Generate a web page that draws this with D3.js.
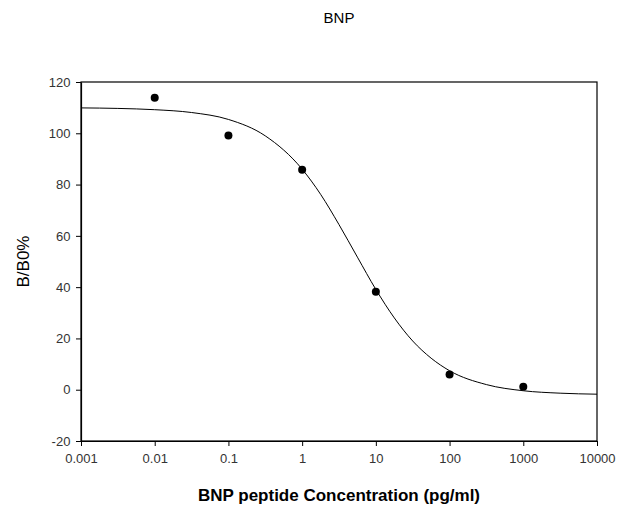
<!DOCTYPE html>
<html>
<head>
<meta charset="utf-8">
<script src="https://cdn.jsdelivr.net/npm/d3@7"></script>
<style>
  body { margin: 0; background: #fff; }
  text { font-family: "Liberation Sans", Arial, sans-serif; }
</style>
</head>
<body>
<svg id="chart"></svg>
<script>
// measured points
const conc = [0.01, 0.1, 1, 10, 100, 1000];
const bb0 = [113.9, 99.1, 85.8, 38.2, 5.9, 1.2];

// fitted curve
const curveConc = [0.001, 0.00316, 0.01, 0.0316, 0.1, 0.316, 1, 1.78, 3.16, 5.62, 10, 17.8, 31.6, 56.2, 100, 316, 1000, 3162, 10000];
const curveVal = [109.9, 109.7, 109.2, 108.1, 105.4, 99.0, 86.0, 76.2, 64.4, 51.7, 39.1, 28.0, 19.0, 12.3, 7.4, 2.0, -0.4, -1.35, -1.75];

const xTicks = [0.001, 0.01, 0.1, 1, 10, 100, 1000, 10000];
const yTicks = [-20, 0, 20, 40, 60, 80, 100, 120];

const width = 617, height = 508;
const margin = { top: 82, right: 20, bottom: 67, left: 81 };
const w = width - margin.left - margin.right;
const h = height - margin.top - margin.bottom;

const svg = d3.select('#chart')
  .attr('width', width)
  .attr('height', height);

const g = svg.append('g')
  .attr('transform', `translate(${margin.left},${margin.top})`);

const x = d3.scaleLog().domain([0.001, 10000]).range([0, w]);
const y = d3.scaleLinear().domain([-20, 120]).range([h, 0]);

// frame
g.append('rect')
  .attr('width', w)
  .attr('height', h)
  .attr('fill', 'none')
  .attr('stroke', '#000')
  .attr('stroke-width', 1.2);

const xAxis = g.append('g')
  .attr('transform', `translate(0,${h})`)
  .call(d3.axisBottom(x).tickValues(xTicks).tickFormat(d => String(d)).tickSize(5).tickSizeOuter(0));

const yAxis = g.append('g')
  .call(d3.axisLeft(y).tickValues(yTicks).tickFormat(d => String(d)).tickSize(5).tickSizeOuter(0));

[xAxis, yAxis].forEach(a => {
  a.select('.domain').attr('stroke', '#000').attr('stroke-width', 1.2);
  a.selectAll('.tick line').attr('stroke', '#000');
  a.selectAll('.tick text')
    .attr('fill', '#333')
    .style('font-size', '13px');
});
xAxis.selectAll('.tick text').attr('dy', '1.1em');
yAxis.selectAll('.tick text').attr('dx', '-0.2em');

const line = d3.line()
  .x((d, i) => x(curveConc[i]))
  .y(d => y(d))
  .curve(d3.curveMonotoneX);

g.append('path')
  .datum(curveVal)
  .attr('d', line)
  .attr('fill', 'none')
  .attr('stroke', '#000')
  .attr('stroke-width', 1);

g.selectAll('circle')
  .data(bb0)
  .enter().append('circle')
  .attr('cx', (d, i) => x(conc[i]))
  .attr('cy', d => y(d))
  .attr('r', 4)
  .attr('fill', '#000');

// title and labels
svg.append('text')
  .attr('x', margin.left + w / 2)
  .attr('y', 23)
  .attr('text-anchor', 'middle')
  .style('font-size', '15px')
  .text('BNP');

svg.append('text')
  .attr('x', margin.left + w / 2)
  .attr('y', 501)
  .attr('text-anchor', 'middle')
  .style('font-size', '17px')
  .style('font-weight', 'bold')
  .text('BNP peptide Concentration (pg/ml)');

svg.append('text')
  .attr('transform', `translate(29,${margin.top + h / 2}) rotate(-90)`)
  .attr('text-anchor', 'middle')
  .style('font-size', '17px')
  .text('B/B0%');
</script>
</body>
</html>
